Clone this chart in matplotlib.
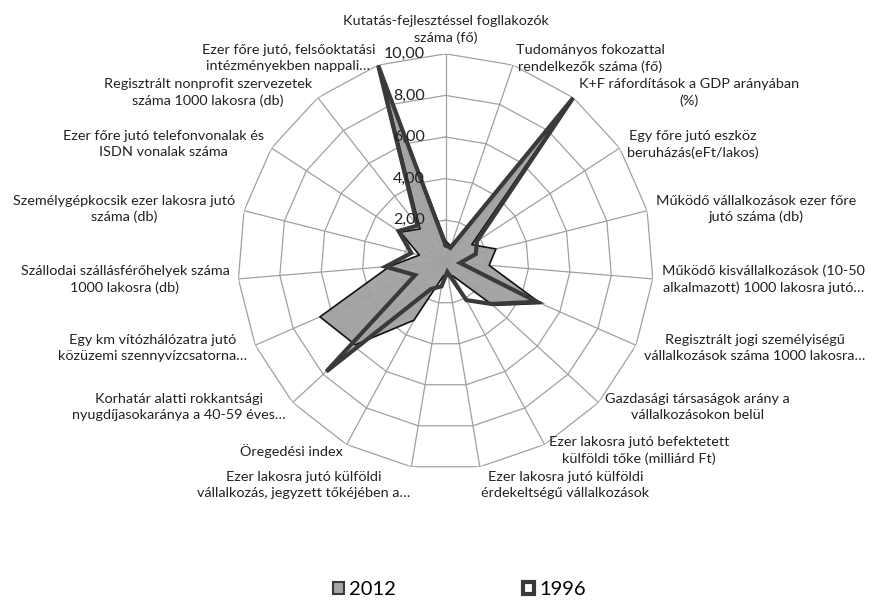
import numpy as np
import matplotlib.pyplot as plt
from matplotlib.patches import Patch

plt.rcParams['font.family'] = ['Lato', 'DejaVu Sans']

# -----------------------------
# Data
# -----------------------------
categories = [
    "Kutatás-fejlesztéssel fogllakozók\nszáma (fő)",
    "Tudományos fokozattal\nrendelkezők száma (fő)",
    "K+F ráfordítások a GDP arányában\n(%)",
    "Egy főre jutó eszköz\nberuházás(eFt/lakos)",
    "Működő vállalkozások ezer főre\njutó száma (db)",
    "Működő kisvállalkozások (10-50\nalkalmazott) 1000 lakosra jutó…",
    "Regisztrált jogi személyiségű\nvállalkozások száma 1000 lakosra…",
    "Gazdasági társaságok arány a\nvállalkozásokon belül",
    "Ezer lakosra jutó befektetett\nkülföldi tőke (milliárd Ft)",
    "Ezer lakosra jutó külföldi\nérdekeltségű vállalkozások",
    "Ezer lakosra jutó külföldi\nvállalkozás, jegyzett tőkéjében a…",
    "Öregedési index",
    "Korhatár alatti rokkantsági\nnyugdíjasokaránya a 40-59 éves…",
    "Egy km vítózhálózatra jutó\nközüzemi szennyvízcsatorna…",
    "Szállodai szállásférőhelyek száma\n1000 lakosra (db)",
    "Személygépkocsik ezer lakosra jutó\nszáma (db)",
    "Ezer főre jutó telefonvonalak és\nISDN vonalak száma",
    "Regisztrált nonprofit szervezetek\nszáma 1000 lakosra (db)",
    "Ezer főre jutó, felsőoktatási\nintézményekben nappali…",
]

vals_2012 = [1.0, 0.8, 9.5, 1.5, 2.5, 2.1, 5.0, 3.1, 0.8, 0.6,
             0.7, 3.2, 5.9, 6.6, 2.7, 1.3, 2.6, 2.0, 9.5]
vals_1996 = [0.8, 0.7, 10.0, 1.8, 1.5, 0.7, 4.8, 3.0, 2.1, 0.5,
             1.2, 1.5, 7.8, 1.6, 2.9, 1.7, 2.7, 2.2, 10.0]

ring_values = [2, 4, 6, 8, 10]
ring_labels = ["2,00", "4,00", "6,00", "8,00", "10,00"]
series_names = ["2012", "1996"]

# -----------------------------
# Figure / polar axes
# -----------------------------
fig = plt.figure(figsize=(8.72, 6.0), dpi=100)
ax = fig.add_axes([0.2725, 0.2173, 0.477, 0.693], projection='polar')
ax.set_theta_zero_location('N')
ax.set_theta_direction(-1)
ax.set_ylim(0, 10)
ax.axis('off')

n = len(categories)
theta = np.arange(n) * 2 * np.pi / n
theta_c = np.append(theta, theta[0])

grid_col = "#a0a0a0"

# polygon grid + spokes
for r in ring_values:
    ax.plot(theta_c, [r] * (n + 1), color=grid_col, lw=0.9, zorder=2)
for t in theta:
    ax.plot([t, t], [0, 10], color=grid_col, lw=0.9, zorder=2)

# series
v12 = np.append(vals_2012, vals_2012[0])
v96 = np.append(vals_1996, vals_1996[0])
ax.fill(theta_c, v12, color="#a5a5a5", zorder=1, lw=0)
ax.plot(theta_c, v12, color="#111111", lw=1.2, zorder=3)
ax.plot(theta_c, v96, color="#3a3a3a", lw=3.0, zorder=4, solid_joinstyle='miter')

# radial tick labels
for r, lab in zip(ring_values, ring_labels):
    ax.annotate(lab, xy=(0, r), xytext=(-15, 0), textcoords='offset points',
                ha='right', va='center', fontsize=11.5, color="#222222", zorder=5)

# category labels
px = 0.72  # points per pixel at dpi 100
for t, lab in zip(theta, categories):
    s, c = np.sin(t), np.cos(t)
    if abs(s) < 0.05:
        ha, va = 'center', 'bottom'
        dx, dy = 0, 10
    else:
        ha = 'left' if s > 0 else 'right'
        dx = 9 * s
        if c < -0.95:
            va, dy = 'top', -4
        else:
            va, dy = 'center', 7 * c
    ax.annotate(lab, xy=(t, 10), xytext=(dx * px, dy * px),
                textcoords='offset points', ha=ha, va=va,
                multialignment='center', fontsize=10.4, color="#222222",
                linespacing=1.4, annotation_clip=False)

# legend
handles = [
    Patch(facecolor="#a5a5a5", edgecolor="#3a3a3a", lw=1.5),
    Patch(facecolor="white", edgecolor="#3a3a3a", lw=3),
]
fig.legend(handles, series_names, loc='center', bbox_to_anchor=(0.527, 0.017),
           ncol=2, frameon=False, fontsize=14.5, handlelength=0.55,
           handleheight=0.55, handletextpad=0.25, columnspacing=6.3)

fig.savefig("out.png", dpi=100)
